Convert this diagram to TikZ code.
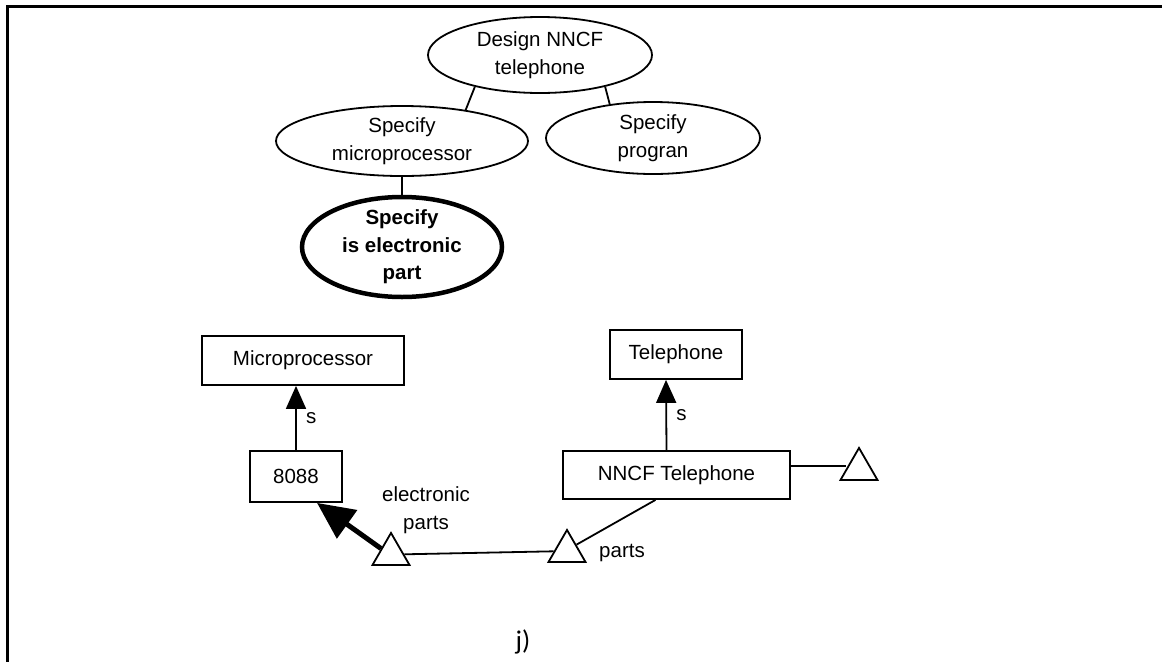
\documentclass[tikz,border=0pt]{standalone}
\usepackage{fontspec}
\setmainfont{Liberation Sans}
\newfontfamily\capfont{Carlito}
\usetikzlibrary{arrows.meta,shapes.geometric}

\begin{document}
\begin{tikzpicture}[x=1pt,y=-1pt,
  font=\fontsize{20.5}{27.5}\selectfont,
  goal/.style={draw, ellipse, line width=1.8pt, inner sep=0pt, align=center},
  concept/.style={draw, rectangle, line width=1.8pt, inner sep=0pt},
  tri/.style={draw, regular polygon, regular polygon sides=3, minimum size=42.7pt, inner sep=0pt, line width=1.8pt},
  link/.style={line width=1.8pt},
  isa/.style={line width=1.8pt, -{Triangle[length=23pt,width=20pt]}}]
\useasboundingbox (0,0) rectangle (1162,662);
\draw[line width=3pt] (1162,6) -- (7,6) -- (7,662);

% goal tree
\node[goal, minimum width=224pt, minimum height=76pt] (design) at (540,55) {Design NNCF\\telephone};
\node[goal, minimum width=252pt, minimum height=70pt] (micro) at (402,141) {Specify\\microprocessor};
\node[goal, minimum width=214pt, minimum height=72pt] (progran) at (653,138) {Specify\\progran};
\node[goal, line width=4.5pt, inner ysep=-3pt, minimum width=200pt, minimum height=100pt, font=\fontsize{20.5}{27.5}\selectfont\bfseries] (electronic) at (402,247) {Specify\\is electronic\\part};
\draw[link] (design.206) -- (micro.26);
\draw[link] (design.334) -- (progran.142);
\draw[link] (micro.south) -- (micro.south |- electronic.north);

% concepts
\node[concept, minimum width=202pt, minimum height=49pt] (microproc) at (303,360.5) {Microprocessor};
\node[concept, minimum width=132pt, minimum height=49pt] (tele) at (676,354.5) {Telephone};
\node[concept, minimum width=92pt, minimum height=51pt] (b8088) at (296,476.5) {8088};
\node[concept, minimum width=227pt, minimum height=48pt] (nncf) at (676.5,475) {NNCF Telephone};
\node[tri] (t1) at (391,554.3) {};
\node[tri] (t2) at (567,551.3) {};
\node[tri] (t3) at (859,469.3) {};

\draw[isa] (b8088.north) -- (b8088.north |- microproc.south) node[midway, right=6pt] {s};
\draw[isa] ([xshift=-10pt]nncf.north) -- ([xshift=-10pt]tele.south) node[midway, right=6pt] {s};
\draw[line width=5pt, -{Triangle[length=37pt,width=34pt]}] (t1.150) -- ([xshift=21pt]b8088.south);
\draw[link] (t1.east) -- (t2.west);
\draw[link] (t2.35) -- ([xshift=-21pt]nncf.south);
\draw[link] ([yshift=9pt]nncf.east) -- ([yshift=9pt]nncf.east -| t3.west);

\node[align=center] (eplabel) at (426,510) {electronic\\parts};
\node (plabel) at (622,553) {parts};
\node[font=\capfont\fontsize{27}{30}\selectfont] (caption) at (523,642) {j)};
\end{tikzpicture}
\end{document}
